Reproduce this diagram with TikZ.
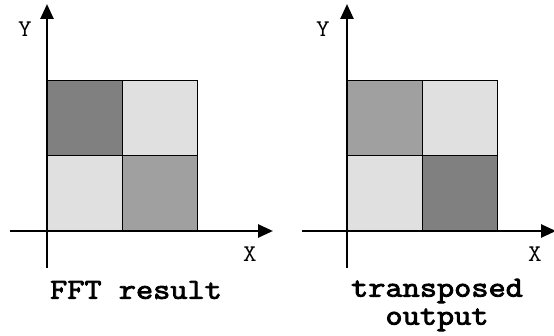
\documentclass[tikz,border=0pt]{standalone}
\usepackage{fontspec}
\newfontfamily\capfont[FakeBold=3, FakeStretch=1.15]{Latin Modern Mono}
\newfontfamily\axfont[FakeStretch=1.1]{Latin Modern Mono}
\usepackage{xcolor}
\usetikzlibrary{arrows.meta,positioning}

\definecolor{cdark}{HTML}{808080}
\definecolor{cmid}{HTML}{A0A0A0}
\definecolor{clight}{HTML}{E0E0E0}

\begin{document}
\begin{tikzpicture}[
    x=1pt, y=1pt,
    cell/.style={rectangle, draw=black, line width=1pt, minimum width=75pt, minimum height=75pt, inner sep=0pt, outer sep=0pt},
    axis/.style={-{Triangle[length=15pt, width=13pt]}, line width=2.6pt},
    lbl/.style={font=\fontsize{24}{24}\selectfont\axfont, inner sep=0pt},
    caption/.style={font=\fontsize{29}{28}\selectfont\capfont, align=center, inner sep=0pt}
]
    \useasboundingbox (0,0) rectangle (554,335);

    % FFT result
    \node [cell, fill=clight, anchor=south west] (a00) at (47,104) {};
    \node [cell, fill=cmid, right=0pt of a00] (a10) {};
    \node [cell, fill=cdark, above=0pt of a00] (a01) {};
    \node [cell, fill=clight, above=0pt of a10] (a11) {};

    \coordinate (ay0) at (47,67);
    \coordinate (ay1) at (47,331);
    \coordinate (ax0) at (10,104);
    \coordinate (ax1) at (273,104);
    \draw [axis] (ay0) -- (ay1);
    \draw [axis] (ax0) -- (ax1);
    \node [lbl] (ay) at (25,306) {Y};
    \node [lbl] (ax) at (250,81) {X};
    \node [caption] (acap) at (136,45) {FFT result};

    % transposed output
    \node [cell, fill=clight, anchor=south west] (b00) at (347,104) {};
    \node [cell, fill=cdark, right=0pt of b00] (b10) {};
    \node [cell, fill=cmid, above=0pt of b00] (b01) {};
    \node [cell, fill=clight, above=0pt of b10] (b11) {};

    \coordinate (by0) at (347,67);
    \coordinate (by1) at (347,331);
    \coordinate (bx0) at (302,104);
    \coordinate (bx1) at (556,104);
    \draw [axis] (by0) -- (by1);
    \draw [axis] (bx0) -- (bx1);
    \node [lbl] (by) at (323,306) {Y};
    \node [lbl] (bx) at (535,81) {X};
    \node [caption] (bcap) at (437,30) {transposed\\output};
\end{tikzpicture}
\end{document}
